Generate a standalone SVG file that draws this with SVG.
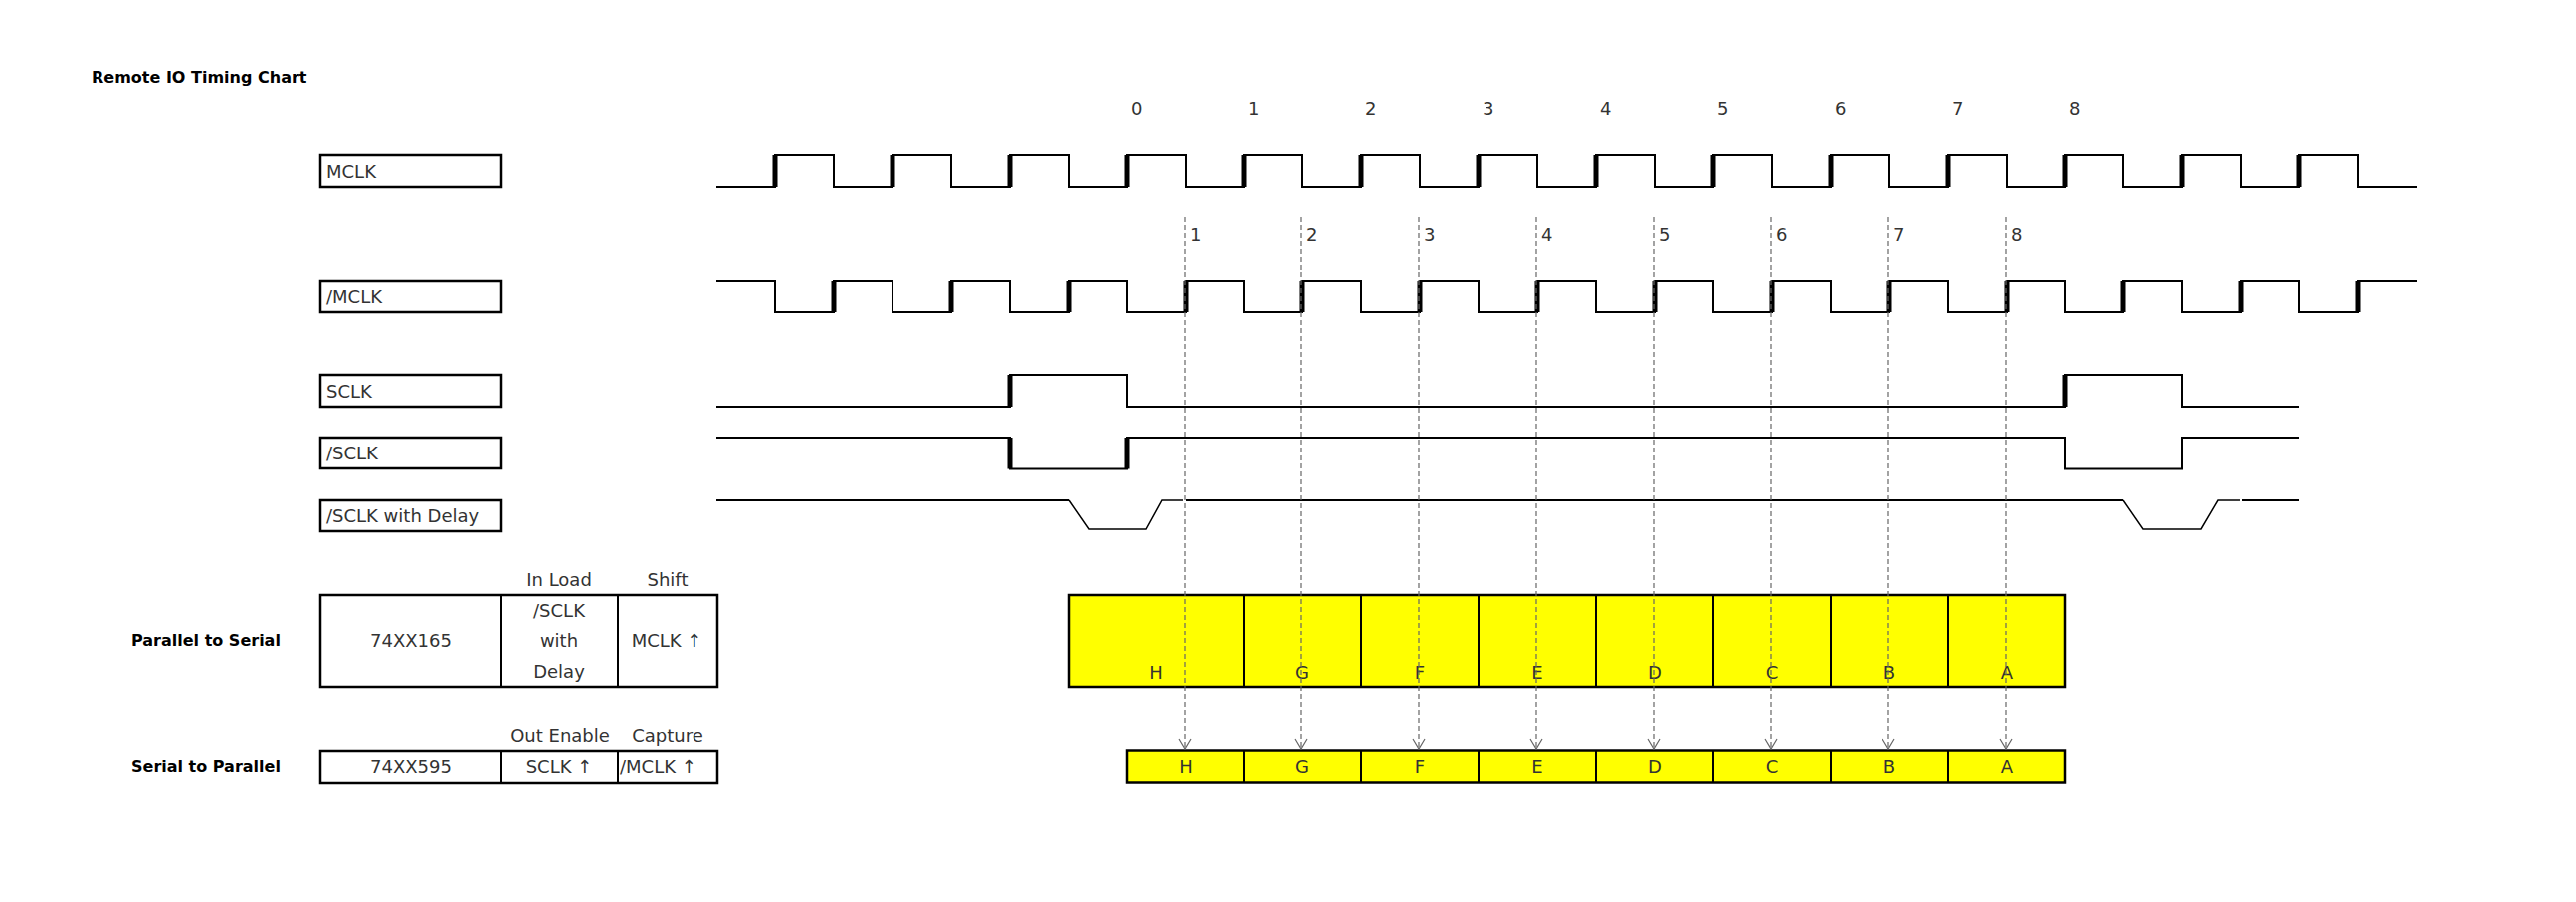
<svg xmlns="http://www.w3.org/2000/svg" width="2589" height="907" viewBox="0 0 2589 907">
<style>
.t{font-family:"DejaVu Sans","Liberation Sans",sans-serif;font-size:18px;fill:#333}
.c{text-anchor:middle}
.b{font-family:"DejaVu Sans","Liberation Sans",sans-serif;font-weight:bold;font-size:16px;fill:#000}
.box{fill:#fff;stroke:#000;stroke-width:2.5}
.wave{fill:none;stroke:#000;stroke-width:2}
.thick{fill:none;stroke:#000;stroke-width:5}
.thin{fill:none;stroke:#000;stroke-width:1.5}
.reg{fill:#ffff00;stroke:#000;stroke-width:2.5}
.div{stroke:#000;stroke-width:2}
.dash{fill:none;stroke:#666;stroke-width:1.2;stroke-dasharray:5 3}
</style>
<defs>
<marker id="ah" markerUnits="userSpaceOnUse" markerWidth="14" markerHeight="14" viewBox="-11 -7 12 14" refX="0" refY="0" orient="auto">
<path d="M-10,-6 L0,0 L-10,6" fill="none" stroke="#666" stroke-width="1.2"/>
</marker>
</defs>
<rect width="2589" height="907" fill="#fff"/>
<text id="title" class="b" x="92" y="83">Remote IO Timing Chart</text>

<g id="sig-mclk">
<rect class="box" x="322" y="156" width="182" height="32"/>
<text class="t" x="328" y="179">MCLK</text>
<path class="wave" d="M720,188 H779 V156 H838 V188 H897 V156 H956 V188 H1015 V156 H1074 V188 H1133 V156 H1192 V188 H1250 V156 H1309 V188 H1368 V156 H1427 V188 H1486 V156 H1545 V188 H1604 V156 H1663 V188 H1722 V156 H1781 V188 H1840 V156 H1899 V188 H1958 V156 H2017 V188 H2075 V156 H2134 V188 H2193 V156 H2252 V188 H2311 V156 H2370 V188 H2429"/>
<path class="thick" d="M779,156V188 M897,156V188 M1015,156V188 M1133,156V188 M1250,156V188 M1368,156V188 M1486,156V188 M1604,156V188 M1722,156V188 M1840,156V188 M1958,156V188 M2075,156V188 M2193,156V188 M2311,156V188"/>
<text class="t" x="1137" y="116">0</text>
<text class="t" x="1254" y="116">1</text>
<text class="t" x="1372" y="116">2</text>
<text class="t" x="1490" y="116">3</text>
<text class="t" x="1608" y="116">4</text>
<text class="t" x="1726" y="116">5</text>
<text class="t" x="1844" y="116">6</text>
<text class="t" x="1962" y="116">7</text>
<text class="t" x="2079" y="116">8</text>
</g>

<g id="sig-nmclk">
<rect class="box" x="322" y="283" width="182" height="31"/>
<text class="t" x="328" y="305">/MCLK</text>
<path class="wave" d="M720,283 H779 V314 H838 V283 H897 V314 H956 V283 H1015 V314 H1074 V283 H1133 V314 H1192 V283 H1250 V314 H1309 V283 H1368 V314 H1427 V283 H1486 V314 H1545 V283 H1604 V314 H1663 V283 H1722 V314 H1781 V283 H1840 V314 H1899 V283 H1958 V314 H2017 V283 H2075 V314 H2134 V283 H2193 V314 H2252 V283 H2311 V314 H2370 V283 H2429"/>
<path class="thick" d="M838,283V314 M956,283V314 M1074,283V314 M1192,283V314 M1309,283V314 M1427,283V314 M1545,283V314 M1663,283V314 M1781,283V314 M1899,283V314 M2017,283V314 M2134,283V314 M2252,283V314 M2370,283V314"/>
<text class="t" x="1196" y="242">1</text>
<text class="t" x="1313" y="242">2</text>
<text class="t" x="1431" y="242">3</text>
<text class="t" x="1549" y="242">4</text>
<text class="t" x="1667" y="242">5</text>
<text class="t" x="1785" y="242">6</text>
<text class="t" x="1903" y="242">7</text>
<text class="t" x="2021" y="242">8</text>
</g>

<g id="sig-sclk">
<rect class="box" x="322" y="377" width="182" height="32"/>
<text class="t" x="328" y="400">SCLK</text>
<path class="wave" d="M720,409 H1015 V377 H1133 V409 H2075 V377 H2193 V409 H2311"/>
<path class="thick" d="M1015,377V409 M2075,377V409"/>
</g>

<g id="sig-nsclk">
<rect class="box" x="322" y="440" width="182" height="31"/>
<text class="t" x="328" y="462">/SCLK</text>
<path class="wave" d="M720,440 H1015 V471.5 H1133 V440 H2075 V471.5 H2193 V440 H2311"/>
<path class="thick" d="M1015,440V471.5 M1133,440V471.5"/>
</g>

<g id="sig-nsclk-delay">
<rect class="box" x="322" y="503" width="182" height="31"/>
<text class="t" x="328" y="525">/SCLK with Delay</text>
<path class="wave" d="M720,503 H1074 M1192,503 H2134 M2253,503 H2311"/>
<path class="thin" d="M1074,503 L1094,532 H1152 L1168,503 H1189 M2134,503 L2154,532 H2212 L2229,503 H2251"/>
</g>

<g id="p2s">
<text class="b" x="132" y="650">Parallel to Serial</text>
<text class="t c" x="562" y="589">In Load</text>
<text class="t c" x="671" y="589">Shift</text>
<rect class="box" x="322" y="598" width="399" height="93"/>
<path class="div" d="M504,598V691 M621,598V691"/>
<text class="t c" x="413" y="651">74XX165</text>
<text class="t c" x="562" y="620">/SCLK</text>
<text class="t c" x="562" y="651">with</text>
<text class="t c" x="562" y="682">Delay</text>
<text class="t c" x="670" y="651">MCLK ↑</text>
</g>

<g id="s2p">
<text class="b" x="132" y="776">Serial to Parallel</text>
<text class="t c" x="563" y="746">Out Enable</text>
<text class="t c" x="671" y="746">Capture</text>
<rect class="box" x="322" y="755" width="399" height="32"/>
<path class="div" d="M504,755V787 M621,755V787"/>
<text class="t c" x="413" y="777">74XX595</text>
<text class="t c" x="562" y="777">SCLK ↑</text>
<text class="t" x="623" y="777">/MCLK ↑</text>
</g>

<g id="reg-p2s">
<rect class="reg" x="1074" y="598" width="1001" height="93"/>
<path class="div" d="M1250,598V691 M1368,598V691 M1486,598V691 M1604,598V691 M1722,598V691 M1840,598V691 M1958,598V691"/>
<text class="t c" x="1162" y="683">H</text>
<text class="t c" x="1309" y="683">G</text>
<text class="t c" x="1427" y="683">F</text>
<text class="t c" x="1545" y="683">E</text>
<text class="t c" x="1663" y="683">D</text>
<text class="t c" x="1781" y="683">C</text>
<text class="t c" x="1899" y="683">B</text>
<text class="t c" x="2017" y="683">A</text>
</g>

<g id="reg-s2p">
<rect class="reg" x="1133" y="754.5" width="942" height="32"/>
<path class="div" d="M1250,754.5V786.5 M1368,754.5V786.5 M1486,754.5V786.5 M1604,754.5V786.5 M1722,754.5V786.5 M1840,754.5V786.5 M1958,754.5V786.5"/>
<text class="t c" x="1192" y="777">H</text>
<text class="t c" x="1309" y="777">G</text>
<text class="t c" x="1427" y="777">F</text>
<text class="t c" x="1545" y="777">E</text>
<text class="t c" x="1663" y="777">D</text>
<text class="t c" x="1781" y="777">C</text>
<text class="t c" x="1899" y="777">B</text>
<text class="t c" x="2017" y="777">A</text>
</g>

<g id="connectors">
<path class="dash" marker-end="url(#ah)" d="M1191,218V753"/>
<path class="dash" marker-end="url(#ah)" d="M1308,218V753"/>
<path class="dash" marker-end="url(#ah)" d="M1426,218V753"/>
<path class="dash" marker-end="url(#ah)" d="M1544,218V753"/>
<path class="dash" marker-end="url(#ah)" d="M1662,218V753"/>
<path class="dash" marker-end="url(#ah)" d="M1780,218V753"/>
<path class="dash" marker-end="url(#ah)" d="M1898,218V753"/>
<path class="dash" marker-end="url(#ah)" d="M2016,218V753"/>
</g>
</svg>
